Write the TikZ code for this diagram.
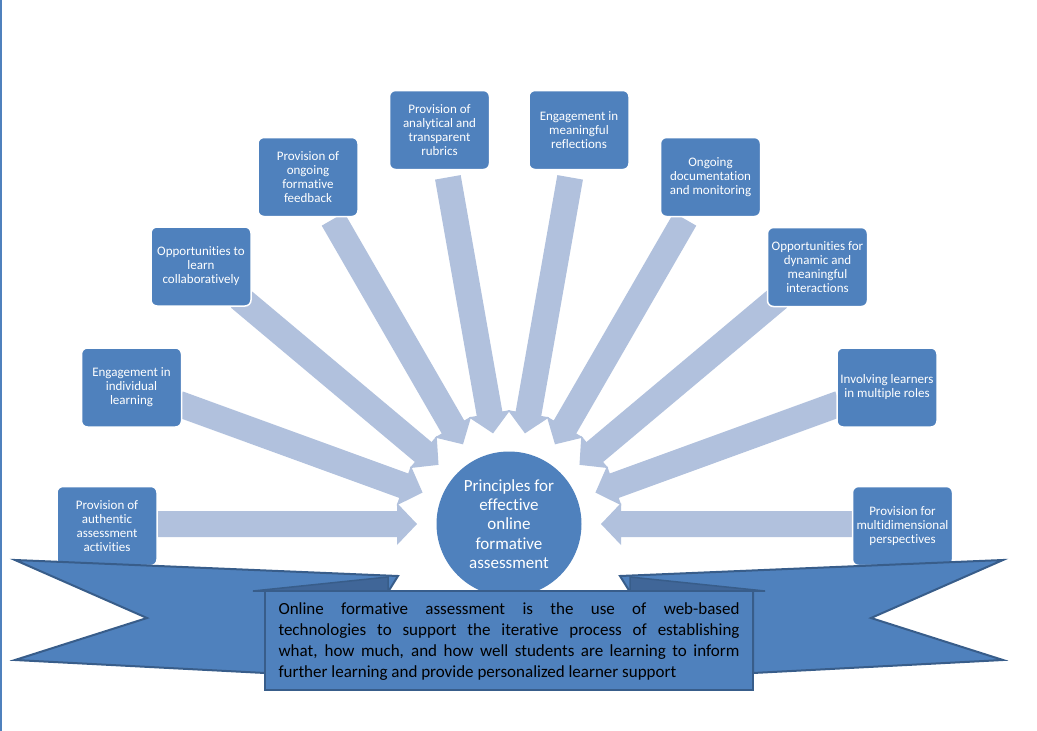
\documentclass[tikz,border=0pt]{standalone}
\usepackage{fontspec}
\setmainfont{Carlito}[Ligatures=NoCommon]
\definecolor{boxblue}{RGB}{79,129,189}
\definecolor{arrowblue}{RGB}{177,193,221}
\definecolor{edgeblue}{RGB}{56,93,138}
\definecolor{foldblue}{RGB}{64,102,152}
\tikzset{
  pbox/.style={rectangle, rounded corners=6pt, fill=boxblue, draw=white, line width=1.5pt,
    minimum width=100pt, minimum height=79pt, inner sep=0pt, align=center, text=white,
    font=\fontsize{13}{14}\selectfont},
  hub/.style={circle, fill=boxblue, minimum size=145pt, inner sep=0pt, align=center, text=white,
    font=\fontsize{17}{19.2}\selectfont},
  fatarrow/.style={fill=arrowblue},
  ribbon/.style={fill=boxblue, draw=edgeblue, line width=2pt, line join=miter},
  fold/.style={fill=foldblue, draw=edgeblue, line width=1.5pt, line join=miter}
}
\begin{document}
\begin{tikzpicture}[x=1pt,y=-1pt]
\useasboundingbox (0,0) rectangle (1037,731);
\fill[white] (0,0) rectangle (1037,731);
\draw[boxblue, line width=1.5pt] (0.75,0) -- (0.75,731);

% hub position (needed for arrows)
\coordinate (cc) at (509,524);

% arrows
\foreach \k in {0,...,9}{
  \begin{scope}[shift={(cc)}, rotate={-20*\k}]
    \fill[fatarrow] (-352,-13) -- (-112,-13) -- (-112,-21) -- (-92,0) -- (-112,21) -- (-112,13) -- (-352,13) -- cycle;
  \end{scope}
}

% boxes
\node[pbox] (b1) at (107,526) {Provision of\\authentic\\assessment\\activities};
\node[pbox] (b2) at (131.5,387.5) {Engagement in\\individual\\learning};
\node[pbox] (b3) at (201,266.5) {Opportunities to\\learn\\collaboratively};
\node[pbox] (b4) at (308,177) {Provision of\\ongoing\\formative\\feedback};
\node[pbox] (b5) at (439.5,130) {Provision of\\analytical and\\transparent\\rubrics};
\node[pbox] (b6) at (579,130) {Engagement in\\meaningful\\reflections};
\node[pbox] (b7) at (710.5,177) {Ongoing\\documentation\\and monitoring};
\node[pbox] (b8) at (817.5,267) {Opportunities for\\dynamic and\\meaningful\\interactions};
\node[pbox] (b9) at (887,387.5) {Involving learners\\in multiple roles};
\node[pbox] (b10) at (902.5,526) {Provision for\\multidimensional\\perspectives};

% hub
\node[hub] (c) at (cc) {Principles for\\effective\\online\\formative\\assessment};

% banner
\draw[ribbon] (15,560) -- (398,576) -- (388,592) -- (265,592) -- (265,673) -- (15,660) -- (147,618) -- cycle;
\draw[ribbon] (1003,560) -- (620,576) -- (630,592) -- (753,592) -- (753,673) -- (1003,660) -- (871,618) -- cycle;
\draw[fold] (388,577) -- (388,592) -- (253,591) -- cycle;
\draw[fold] (630,577) -- (630,592) -- (765,591) -- cycle;
\node[ribbon, rectangle, minimum width=488pt, minimum height=99pt, inner sep=0pt] (def) at (509,640.5) {};
\node[text=black, inner sep=0pt] (deftext) at (509,641.5) {\begin{minipage}{461pt}\fontsize{17}{21}\selectfont
Online formative assessment is the use of web-based\linebreak
technologies to support the iterative process of establishing\linebreak
what, how much, and how well students are learning to inform\linebreak
further learning and provide personalized learner support\end{minipage}};
\end{tikzpicture}
\end{document}
